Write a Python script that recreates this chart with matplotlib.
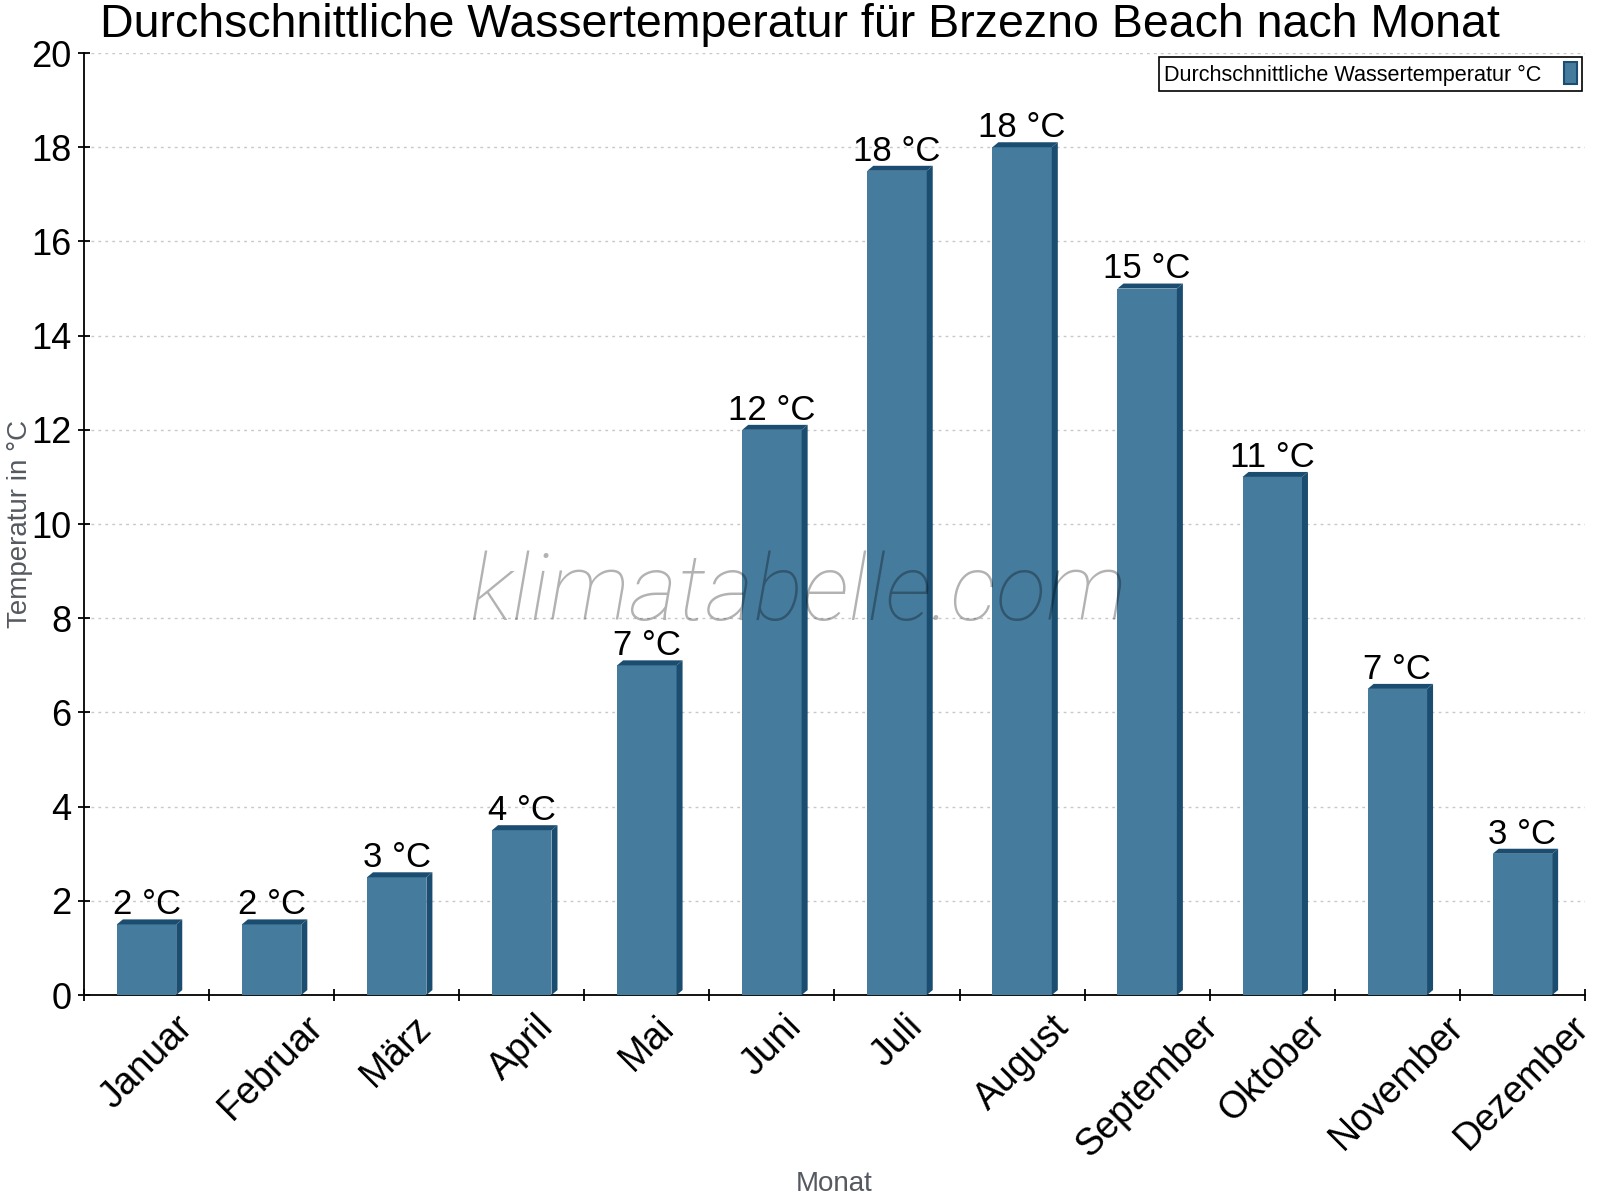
import matplotlib.pyplot as plt
from matplotlib.patches import Polygon, Patch

# Monatswerte (Wassertemperatur in °C)
monate = ['Januar', 'Februar', 'März', 'April', 'Mai', 'Juni', 'Juli',
          'August', 'September', 'Oktober', 'November', 'Dezember']
temperatur = [1.5, 1.5, 2.5, 3.5, 7, 12, 17.5, 18, 15, 11, 6.5, 3]

front_color = '#457b9d'
dark_color = '#1b4d70'
grey_text = '#555a60'

plt.rcParams['font.family'] = ['Liberation Sans', 'DejaVu Sans']

fig = plt.figure(figsize=(16, 12), dpi=100)
ax = fig.add_axes([0.0525, 0.1708, 0.9381, 0.785])

x = list(range(len(monate)))
width = 0.475
dx = 0.048   # 3D offset along x (category units)
dy = 0.106   # 3D offset along y (data units)

bars = ax.bar(x, temperatur, width=width, color=front_color, zorder=3)

for xi, h in zip(x, temperatur):
    x0 = xi - width / 2
    x1 = xi + width / 2
    side = Polygon([(x1, 0), (x1 + dx, dy), (x1 + dx, h + dy), (x1, h)],
                   closed=True, facecolor=dark_color, edgecolor='none', zorder=3)
    top = Polygon([(x0, h), (x0 + dx, h + dy), (x1 + dx, h + dy), (x1, h)],
                  closed=True, facecolor=dark_color, edgecolor='none', zorder=3)
    ax.add_patch(side)
    ax.add_patch(top)
    ax.text(xi, h + dy + 0.11, f'{int(h + 0.5)} °C', ha='center', va='baseline',
            fontsize=25, zorder=4)

ax.set_xlim(-0.5, 11.5)
ax.set_ylim(0, 20)
ax.set_yticks(range(0, 21, 2))
ax.set_xticks(x)
ax.set_xticklabels(monate, rotation=45, ha='center', fontsize=27)
ax.set_xticks([i - 0.5 for i in range(13)], minor=True)
ax.tick_params(axis='x', which='major', length=0, pad=10)
ax.tick_params(axis='x', which='minor', length=8, direction='inout', width=1.3)
ax.tick_params(axis='y', labelsize=26, length=8, direction='inout', width=1.3, pad=5)

ax.grid(axis='y', linestyle=(0, (2, 3)), color='#c8c8c8', linewidth=1, zorder=0)
ax.set_axisbelow(True)

for s in ['top', 'right']:
    ax.spines[s].set_visible(False)
for s in ['left', 'bottom']:
    ax.spines[s].set_linewidth(1.3)

ax.text(-0.0426, 0.5, 'Temperatur in °C', rotation=90, ha='center', va='center',
        fontsize=20, color=grey_text, transform=ax.transAxes)
ax.text(0.5, -0.2006, 'Monat', ha='center', va='center', fontsize=20,
        color=grey_text, transform=ax.transAxes)

fig.text(0.5, 1 - 37 / 1200, 'Durchschnittliche Wassertemperatur für Brzezno Beach nach Monat',
         ha='center', va='baseline', fontsize=33.5)

# Wasserzeichen
ax.text(0.476, 0.398, 'klimatabelle.com', transform=ax.transAxes, ha='center',
        va='baseline', fontsize=67, style='italic', fontweight='light',
        family=['Roboto', 'Liberation Sans'], color=(0, 0, 0, 0.3), zorder=5)

handle = Patch(facecolor=front_color, edgecolor=dark_color, linewidth=1.5)
leg = ax.legend([handle], ['Durchschnittliche Wassertemperatur °C'], loc='upper right',
                bbox_to_anchor=(0.998, 0.996), borderaxespad=0, fontsize=15.6,
                markerfirst=False, fancybox=False, framealpha=1,
                handlelength=0.6, handleheight=1.2, borderpad=0.25,
                handletextpad=1.0)
leg.get_frame().set_edgecolor('black')
leg.get_frame().set_linewidth(1.2)

fig.savefig('out.png', dpi=100)
